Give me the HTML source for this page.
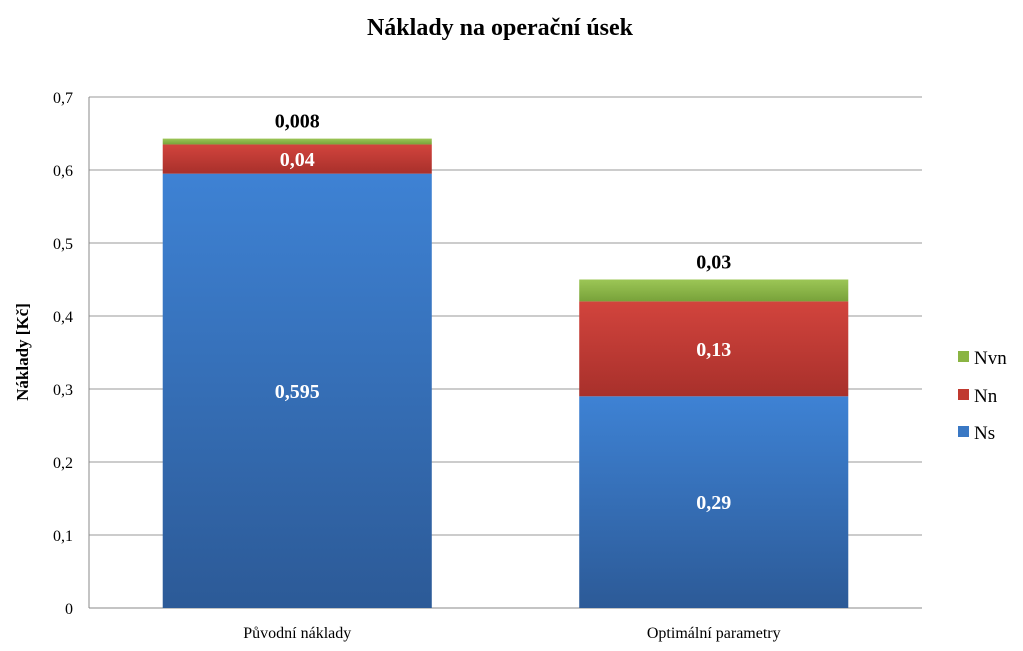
<!DOCTYPE html>
<html><head><meta charset="utf-8"><style>
html,body{margin:0;padding:0;background:#fff;}
svg{display:block;font-family:"Liberation Serif",serif;}
</style></head><body>
<svg id="chart" width="1023" height="651" viewBox="0 0 1023 651">
<defs>
<linearGradient id="gNs" x1="0" y1="0" x2="0" y2="1"><stop offset="0" stop-color="#3e82d4"/><stop offset="1" stop-color="#2c5a97"/></linearGradient>
<linearGradient id="gNn" x1="0" y1="0" x2="0" y2="1"><stop offset="0" stop-color="#d2443d"/><stop offset="1" stop-color="#a8302b"/></linearGradient>
<linearGradient id="gNvn" x1="0" y1="0" x2="0" y2="1"><stop offset="0" stop-color="#9cc656"/><stop offset="1" stop-color="#78a23a"/></linearGradient>
</defs>
<text x="500" y="35" text-anchor="middle" font-size="24" font-weight="bold">Náklady na operační úsek</text>
<text transform="translate(28,352) rotate(-90)" text-anchor="middle" font-size="17" font-weight="bold">Náklady  [Kč]</text>
<g id="grid"></g><g id="bars"></g><g id="labels"></g>
<g>
<rect x="958" y="351" width="11" height="11" fill="#8ab443"/>
<text x="974" y="364" font-size="19">Nvn</text>
<rect x="958" y="389" width="11" height="11" fill="#c0392f"/>
<text x="974" y="402" font-size="19">Nn</text>
<rect x="958" y="426" width="11" height="11" fill="#3a78c4"/>
<text x="974" y="439" font-size="19">Ns</text>
</g>
</svg>
<script>
const categories = ["Původní náklady", "Optimální parametry"];
const nsValues = [0.595, 0.29];
const nnValues = [0.04, 0.13];
const nvnValues = [0.008, 0.03];
const nsLabels = ["0,595", "0,29"];
const nnLabels = ["0,04", "0,13"];
const nvnLabels = ["0,008", "0,03"];
const yTicks = [0, 0.1, 0.2, 0.3, 0.4, 0.5, 0.6, 0.7];
const yTickLabels = ["0", "0,1", "0,2", "0,3", "0,4", "0,5", "0,6", "0,7"];

const NS = "http://www.w3.org/2000/svg";
const L = 89, R = 922, T = 97, B = 608, yMax = 0.7;
const y = v => B - (v / yMax) * (B - T);
const band = (R - L) / categories.length;
const xc = i => L + band * (i + 0.5);
const bw = band * 0.646;
function mk(tag, attrs, parent, text) {
  const e = document.createElementNS(NS, tag);
  for (const k in attrs) e.setAttribute(k, attrs[k]);
  if (text !== undefined) e.textContent = text;
  parent.appendChild(e);
  return e;
}
const grid = document.getElementById('grid'), bars = document.getElementById('bars'), labels = document.getElementById('labels');
yTicks.forEach((t, i) => {
  const gl = mk('line', {x1: L, x2: R, y1: y(t), y2: y(t), stroke: i === 0 ? '#888' : '#9a9a9a', 'stroke-width': 1}, grid);
  
  
  const tl = mk('text', {x: 73, y: y(t) + 6, 'text-anchor': 'end', 'font-size': 16}, grid, yTickLabels[i]);
  
  
});
const ax = mk('line', {x1: L, x2: L, y1: T, y2: B, stroke: '#888'}, grid);


categories.forEach((c, i) => {
  const x0 = xc(i) - bw / 2;
  const segs = [[nsValues[i], 'url(#gNs)', 'bar-ns'], [nnValues[i], 'url(#gNn)', 'bar-nn'], [nvnValues[i], 'url(#gNvn)', 'bar-nvn']];
  let base = 0;
  const mids = [];
  segs.forEach(s => {
    const r = mk('rect', {x: x0, y: y(base + s[0]), width: bw, height: y(base) - y(base + s[0]), fill: s[1]}, bars);
    
    
    mids.push((y(base) + y(base + s[0])) / 2);
    base += s[0];
  });
  const l1 = mk('text', {x: xc(i), y: mids[0] + 7, 'text-anchor': 'middle', 'font-size': 20, 'font-weight': 'bold', fill: '#fff'}, labels, nsLabels[i]);
  
  
  const l2 = mk('text', {x: xc(i), y: mids[1] + 7, 'text-anchor': 'middle', 'font-size': 20, 'font-weight': 'bold', fill: '#fff'}, labels, nnLabels[i]);
  
  
  const l3 = mk('text', {x: xc(i), y: y(base) - 11, 'text-anchor': 'middle', 'font-size': 20, 'font-weight': 'bold', fill: '#000'}, labels, nvnLabels[i]);
  
  
  const cl = mk('text', {x: xc(i), y: 638, 'text-anchor': 'middle', 'font-size': 16}, labels, c);
  
  
});
</script>
</body></html>
